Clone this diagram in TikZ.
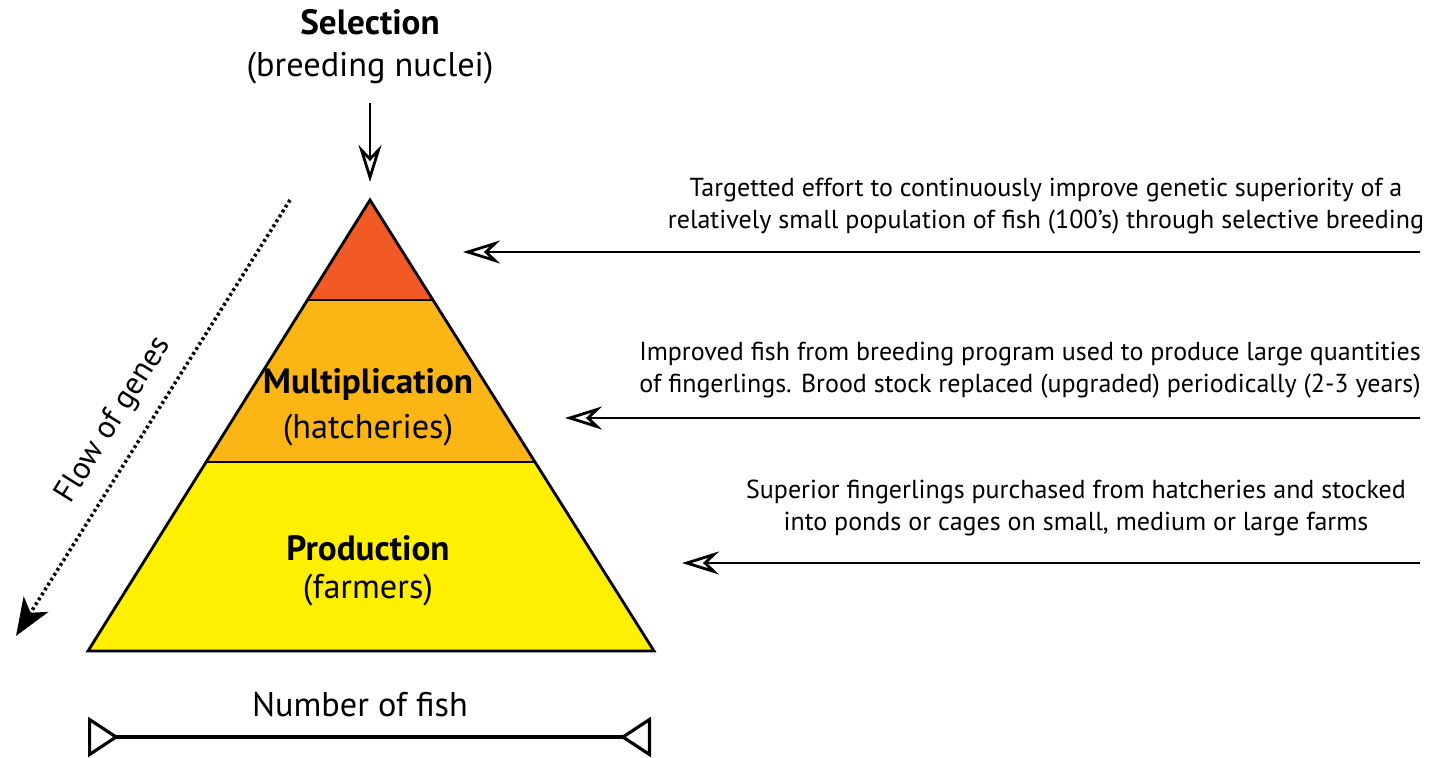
\documentclass[tikz,border=0pt]{standalone}
\usepackage{fontspec}
\setmainfont{PT Sans}
\usetikzlibrary{arrows.meta}
\usetikzlibrary{calc}
\usetikzlibrary{positioning}

\definecolor{selred}{RGB}{241,90,36}
\definecolor{multorange}{RGB}{251,182,21}
\definecolor{prodyellow}{RGB}{255,239,0}

\tikzset{
  biglabel/.style={font=\fontsize{19.5}{22}\selectfont, inner sep=0pt},
  boldlabel/.style={font=\fontsize{20}{22}\selectfont\bfseries, inner sep=0pt},
  sidenote/.style={font=\fontsize{14.8}{18.5}\selectfont, align=center, inner sep=0pt},
  inarrow/.style={line width=1.6pt, -{Stealth[open, length=0.74cm, width=0.46cm, inset=0.24cm]}},
}

\begin{document}
\begin{tikzpicture}[x=0.02cm, y=-0.02cm]
    \useasboundingbox (0,0) rectangle (1446,757);

    % Pyramid corners
    \coordinate (apex) at (370,200);
    \coordinate (bl) at (88,651);
    \coordinate (br) at (654,651);
    \coordinate (m1l) at ($(apex)!0.222!(bl)$);
    \coordinate (m1r) at ($(apex)!0.222!(br)$);
    \coordinate (m2l) at ($(apex)!0.581!(bl)$);
    \coordinate (m2r) at ($(apex)!0.581!(br)$);

    % Bands
    \fill[selred] (apex) -- (m1l) -- (m1r) -- cycle;
    \fill[multorange] (m1l) -- (m2l) -- (m2r) -- (m1r) -- cycle;
    \fill[prodyellow] (m2l) -- (bl) -- (br) -- (m2r) -- cycle;
    \draw[line width=1.3pt] (m1l) -- (m1r) (m2l) -- (m2r);
    \draw[line width=1.6pt, line join=miter] (apex) -- (bl) -- (br) -- cycle;

    % Level labels
    \node[boldlabel] (sel) at (370,22) {Selection};
    \node[biglabel] (nuclei) at (370,68) {(breeding nuclei)};
    \node[boldlabel] (mult) at (368,385) {Multiplication};
    \node[biglabel] (hatch) at (368,430) {(hatcheries)};
    \node[boldlabel] (prod) at (368,548) {Production};
    \node[biglabel] (farm) at (368,590) {(farmers)};

    % Top arrow
    \coordinate (topstart) at (370,103);
    \coordinate (topend) at (370,182);
    \draw[inarrow] (topstart) -- (topend);

    % Side notes and their arrows
    \node[sidenote] (note1) at (1046,206) {Targetted effort to continuously improve genetic superiority of a\\relatively small population of fish (100's) through selective breeding};
    \node[sidenote] (note2) at (1030,370) {Improved fish from breeding program used to produce large quantities\\of fingerlings. Brood stock replaced (upgraded) periodically (2-3 years)};
    \node[sidenote] (note3) at (1076,508) {Superior fingerlings purchased from hatcheries and stocked\\into ponds or cages on small, medium or large farms};

    \coordinate (n1s) at (1420,252);
    \coordinate (n1e) at (463,252);
    \coordinate (n2s) at (1420,418);
    \coordinate (n2e) at (565,418);
    \coordinate (n3s) at (1420,563);
    \coordinate (n3e) at (682,563);
    \draw[inarrow] (n1s) -- (n1e);
    \draw[inarrow] (n2s) -- (n2e);
    \draw[inarrow] (n3s) -- (n3e);

    % Flow of genes
    \coordinate (flowstart) at (290,200);
    \coordinate (flowend) at (16,636);
    \draw[line width=2pt, dash pattern=on 1.6pt off 1.7pt, -{Stealth[length=0.75cm, width=0.58cm, inset=0.2cm]}] (flowstart) -- (flowend);
    \node[biglabel, font=\fontsize{18}{20}\selectfont, rotate=58] (flow) at (114,420) {Flow of genes};

    % Number of fish
    \node[biglabel] (num) at (360,705) {Number of fish};
    \coordinate (numl) at (88,737);
    \coordinate (numr) at (651,737);
    \draw[line width=1.8pt, {Triangle[open, reversed, length=0.62cm, width=0.8cm]}-{Triangle[open, reversed, length=0.62cm, width=0.8cm]}] (numl) -- (numr);
\end{tikzpicture}
\end{document}
